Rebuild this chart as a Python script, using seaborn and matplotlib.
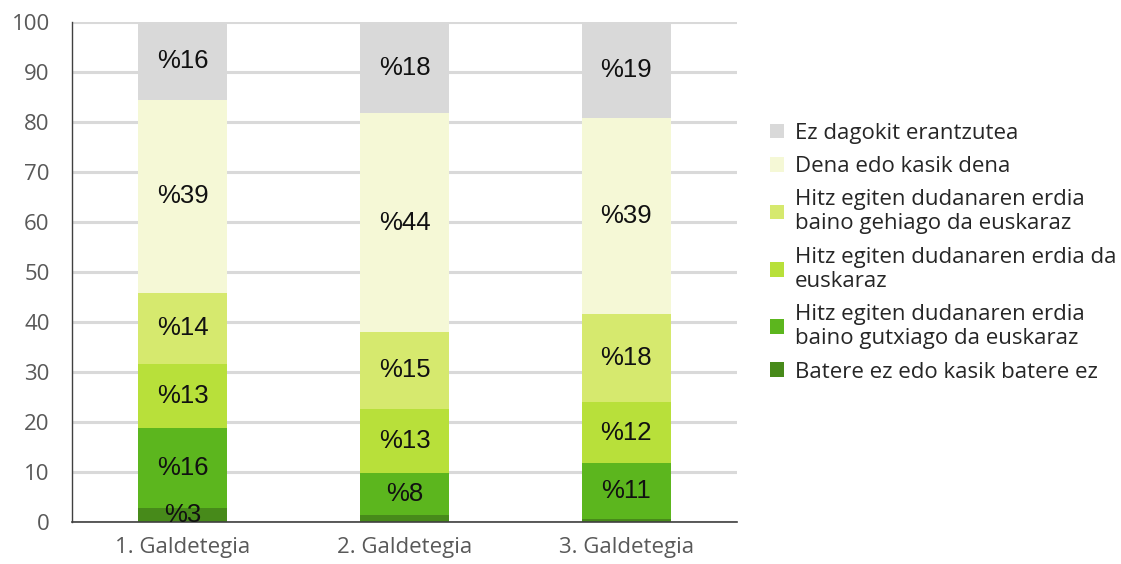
import numpy as np
import pandas as pd
import matplotlib
matplotlib.use("Agg")
import matplotlib.pyplot as plt
from matplotlib.patches import Patch
import seaborn as sns

# --- data ---
surveys = ["1. Galdetegia", "2. Galdetegia", "3. Galdetegia"]

# stacking order: bottom -> top
categories = [
    "Batere ez edo kasik batere ez",
    "Hitz egiten dudanaren erdia\nbaino gutxiago da euskaraz",
    "Hitz egiten dudanaren erdia da\neuskaraz",
    "Hitz egiten dudanaren erdia\nbaino gehiago da euskaraz",
    "Dena edo kasik dena",
    "Ez dagokit erantzutea",
]
batere_ez = [2.8, 1.3, 0.5]
gutxiago = [16.0, 8.5, 11.3]
erdia = [12.8, 12.8, 12.1]
gehiago = [14.2, 15.4, 17.7]
dena = [38.6, 43.7, 39.2]
ez_dagokit = [15.6, 18.3, 19.2]

# printed labels (None = no label shown)
lbl_batere_ez = ["%3", None, None]
lbl_gutxiago = ["%16", "%8", "%11"]
lbl_erdia = ["%13", "%13", "%12"]
lbl_gehiago = ["%14", "%15", "%18"]
lbl_dena = ["%39", "%44", "%39"]
lbl_ez_dagokit = ["%16", "%18", "%19"]

colors = ["#478a1a", "#5cb61e", "#b8e03a", "#d6e96e", "#f5f8d6", "#d9d9d9"]

series = [batere_ez, gutxiago, erdia, gehiago, dena, ez_dagokit]
labels = [lbl_batere_ez, lbl_gutxiago, lbl_erdia, lbl_gehiago, lbl_dena, lbl_ez_dagokit]

sns.set_theme(style="white")
plt.rcParams["font.family"] = ["Open Sans", "DejaVu Sans"]

fig = plt.figure(figsize=(11.21, 5.64), dpi=100)
ax = fig.add_axes([0.0642, 0.0745, 0.5933, 0.8865])

vals = np.array(series)
tops = np.cumsum(vals, axis=0)
bottoms = tops - vals

# draw cumulative bars from the top layer down so each overlays the next
for i in range(len(series) - 1, -1, -1):
    df = pd.DataFrame({"survey": surveys, "top": tops[i]})
    sns.barplot(data=df, x="survey", y="top", color=colors[i], width=0.40,
                saturation=1, ax=ax, zorder=2, linewidth=0)

for i in range(len(series)):
    for j in range(len(surveys)):
        if labels[i][j] is None:
            continue
        ax.text(j, (bottoms[i][j] + tops[i][j]) / 2, labels[i][j],
                ha="center", va="center", fontsize=18.5, color="#111111",
                family=["Liberation Sans", "DejaVu Sans"], zorder=3)

ax.set_xlim(-0.5, 2.5)
ax.set_ylim(0, 100)
ax.set_yticks(range(0, 101, 10))
ax.set_xlabel("")
ax.set_ylabel("")
ax.yaxis.grid(True, color="#d9d9d9", linewidth=2.2, zorder=0)
ax.set_axisbelow(True)
for s in ["top", "right"]:
    ax.spines[s].set_visible(False)
ax.spines["left"].set_color("#404040")
ax.spines["bottom"].set_color("#404040")
ax.spines["left"].set_linewidth(1.0)
ax.spines["bottom"].set_linewidth(1.2)
ax.tick_params(axis="both", length=0, labelsize=16, labelcolor="#595959")
ax.tick_params(axis="y", pad=16)
ax.tick_params(axis="x", pad=11)

handles = [Patch(facecolor=colors[i], edgecolor="none") for i in range(len(series) - 1, -1, -1)]
leg = fig.legend(handles, categories[::-1], loc="upper left",
                 bbox_to_anchor=(0.6786, 0.798), frameon=False, fontsize=16,
                 handlelength=0.65, handleheight=0.65, handletextpad=0.5,
                 labelspacing=0.55, borderaxespad=0)
for t in leg.get_texts():
    t.set_linespacing(1.2)

fig.savefig("out.png", dpi=100)
